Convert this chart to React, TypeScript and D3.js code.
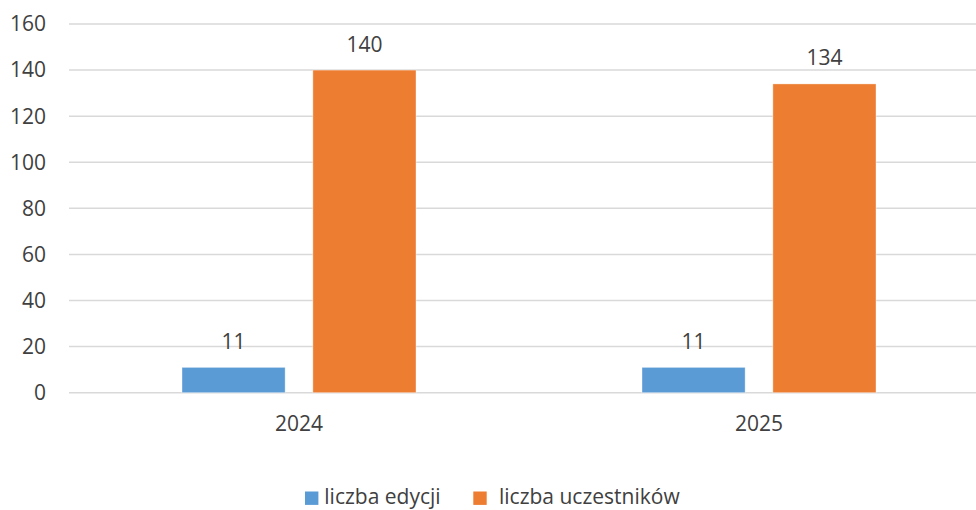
import React, { useRef, useEffect } from "react";
import * as d3 from "d3";

const years = ["2024", "2025"];
const seriesNames = ["liczba edycji", "liczba uczestników"];
const edycje = [11, 11];
const uczestnicy = [140, 134];
const yTicks = [0, 20, 40, 60, 80, 100, 120, 140, 160];
const colors = ["#5B9BD5", "#ED7D31"];

const App: React.FC = () => {
  const ref = useRef<SVGSVGElement | null>(null);

  useEffect(() => {
    if (!ref.current) return;
    const svg = d3.select(ref.current);
    svg.selectAll("*").remove();

    const width = 976;
    const height = 510;
    const font = "'Open Sans', 'Noto Sans', sans-serif";
    const textColor = "#404040";
    const gridColor = "#d9d9d9";

    svg.attr("width", width).attr("height", height);

    // scales
    const y = d3.scaleLinear().domain([0, 160]).range([392.7, 24]);
    const x0 = d3.scaleBand().domain(years).range([69, 989]);
    const groupPad = 113;
    const x1 = d3
      .scaleBand()
      .domain(seriesNames)
      .range([groupPad, x0.bandwidth() - groupPad])
      .paddingInner(0.212);

    // grid lines
    svg
      .append("g")
      .selectAll("line")
      .data(yTicks)
      .join("line")
      .attr("x1", 69)
      .attr("x2", 989)
      .attr("y1", (d) => y(d))
      .attr("y2", (d) => y(d))
      .attr("stroke", gridColor)
      .attr("stroke-width", 1.5);

    // y tick labels
    svg
      .append("g")
      .selectAll("text")
      .data(yTicks)
      .join("text")
      .attr("x", 46)
      .attr("y", (d) => y(d))
      .attr("dy", "0.35em")
      .attr("text-anchor", "end")
      .attr("font-family", font)
      .attr("font-size", 21)
      .attr("fill", textColor)
      .text((d) => d);

    // bars
    const rows = years.map((yr, i) => ({
      year: yr,
      values: [
        { key: seriesNames[0], value: edycje[i] },
        { key: seriesNames[1], value: uczestnicy[i] },
      ],
    }));

    const groups = svg
      .append("g")
      .selectAll("g")
      .data(rows)
      .join("g")
      .attr("transform", (d) => `translate(${x0(d.year)},0)`);

    groups
      .selectAll("rect")
      .data((d) => d.values)
      .join("rect")
      .attr("x", (d) => x1(d.key)!)
      .attr("y", (d) => y(d.value))
      .attr("width", x1.bandwidth())
      .attr("height", (d) => y(0) - y(d.value))
      .attr("fill", (_d, i) => colors[i])
      .attr("stroke", "#ffffff")
      .attr("stroke-opacity", 0.5)
      .attr("stroke-width", 0.75);

    groups
      .selectAll("text")
      .data((d) => d.values)
      .join("text")
      .attr("x", (d) => x1(d.key)! + x1.bandwidth() / 2)
      .attr("y", (d) => y(d.value) - 18.5)
      .attr("text-anchor", "middle")
      .attr("font-family", font)
      .attr("font-size", 21)
      .attr("fill", textColor)
      .text((d) => d.value);

    // x labels
    svg
      .append("g")
      .selectAll("text")
      .data(years)
      .join("text")
      .attr("x", (d) => x0(d)! + x0.bandwidth() / 2)
      .attr("y", 431)
      .attr("text-anchor", "middle")
      .attr("font-family", font)
      .attr("font-size", 21)
      .attr("fill", textColor)
      .text((d) => d);

    // legend
    const legendX = [305, 473.3];
    const legendText = [324.3, 499];
    const legend = svg
      .append("g")
      .selectAll("g")
      .data(seriesNames)
      .join("g");

    legend
      .append("rect")
      .attr("x", (_d, i) => legendX[i])
      .attr("y", 491.5)
      .attr("width", 13.4)
      .attr("height", 13.4)
      .attr("fill", (_d, i) => colors[i]);

    legend
      .append("text")
      .attr("x", (_d, i) => legendText[i])
      .attr("y", 504)
      .attr("font-family", font)
      .attr("font-size", 21)
      .attr("fill", textColor)
      .text((d) => d);
  }, []);

  return (
    <svg
      ref={ref}
      style={{ position: "absolute", left: 0, top: 0, display: "block" }}
    ></svg>
  );
};

export default App;
